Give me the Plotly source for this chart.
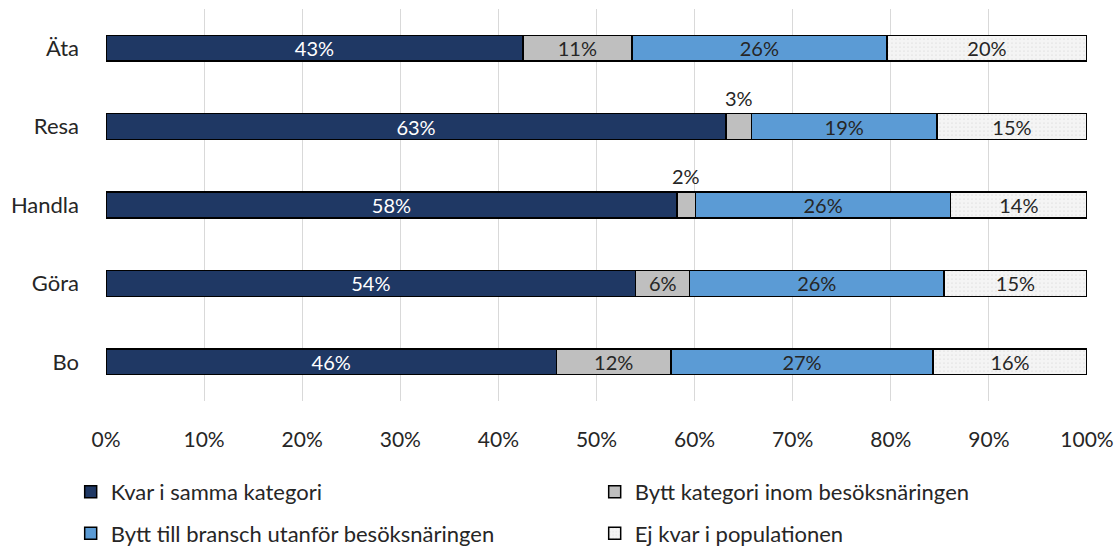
import plotly.graph_objects as go

categories = ["Äta", "Resa", "Handla", "Göra", "Bo"]
series_names = ["Kvar i samma kategori", "Bytt kategori inom besöksnäringen",
                "Bytt till bransch utanför besöksnäringen", "Ej kvar i populationen"]
kvar = [42.5, 63.2, 58.2, 54.0, 45.9]
bytt_inom = [11.1, 2.6, 1.9, 5.5, 11.7]
bytt_utanfor = [26.0, 18.9, 26.0, 25.9, 26.7]
ej_kvar = [20.4, 15.3, 13.9, 14.6, 15.7]
labels_kvar = ["43%", "63%", "58%", "54%", "46%"]
labels_inom = ["11%", "3%", "2%", "6%", "12%"]
labels_utanfor = ["26%", "19%", "26%", "26%", "27%"]
labels_ej = ["20%", "15%", "14%", "15%", "16%"]
x_ticks = [0, 10, 20, 30, 40, 50, 60, 70, 80, 90, 100]
x_tick_labels = ["0%", "10%", "20%", "30%", "40%", "50%", "60%", "70%", "80%", "90%", "100%"]

FONT = "Lato"
colors = ["#1f3864", "#bfbfbf", "#5b9bd5", "#f2f2f2"]
text_colors = ["#ffffff", "#262626", "#262626", "#262626"]
values = [kvar, bytt_inom, bytt_utanfor, ej_kvar]
labels = [labels_kvar, labels_inom, labels_utanfor, labels_ej]
legends = ["legend", "legend", "legend2", "legend2"]

fig = go.Figure()
small = 4.0
for i in range(4):
    txt = [l if v >= small else "" for l, v in zip(labels[i], values[i])]
    marker = dict(color=colors[i], line=dict(color="#000000", width=1.5))
    if i == 3:
        marker["pattern"] = dict(shape=".", fgcolor="#d0d0d0", bgcolor="#f4f4f4", size=4, solidity=0.15)
    fig.add_trace(go.Bar(
        y=categories, x=values[i], name=series_names[i], orientation="h",
        marker=marker, text=txt, textposition="inside", insidetextanchor="middle",
        textangle=0, constraintext="none",
        textfont=dict(family=FONT, size=20, color=text_colors[i]),
        width=0.33, legend=legends[i], hoverinfo="skip",
    ))

# labels for small segments placed above the bar
for j, cat in enumerate(categories):
    v = bytt_inom[j]
    if v < small:
        xc = kvar[j] + v / 2
        fig.add_annotation(x=xc, y=cat, text=labels_inom[j], showarrow=False,
                           yshift=29, font=dict(family=FONT, size=20, color="#262626"))

leg_common = dict(orientation="h", x=-0.036, xanchor="left", yanchor="middle",
                  entrywidth=479, entrywidthmode="pixels", traceorder="normal",
                  font=dict(family=FONT, size=22, color="#262626"), itemwidth=30,
                  bgcolor="rgba(0,0,0,0)")
fig.update_layout(
    barmode="stack",
    width=1117, height=548,
    margin=dict(l=106, r=30, t=9, b=147, autoexpand=False),
    plot_bgcolor="white", paper_bgcolor="white",
    font=dict(family=FONT, size=21, color="#262626"),
    legend=dict(y=-0.232, **leg_common),
    legend2=dict(y=-0.338, **leg_common),
    showlegend=True,
)
fig.update_xaxes(range=[0, 100], tickvals=x_ticks, ticktext=x_tick_labels,
                 showgrid=True, gridcolor="#d9d9d9", gridwidth=1, zeroline=False,
                 showline=False, ticks="", ticklabelstandoff=24,
                 tickfont=dict(family=FONT, size=21, color="#262626"))
fig.update_yaxes(autorange="reversed", showgrid=False, showline=False, ticks="",
                 ticklabelstandoff=26, tickfont=dict(family=FONT, size=22, color="#262626"))

fig.write_html("out.html", config={"displayModeBar": False},
               post_script="document.body.style.margin='0';")
